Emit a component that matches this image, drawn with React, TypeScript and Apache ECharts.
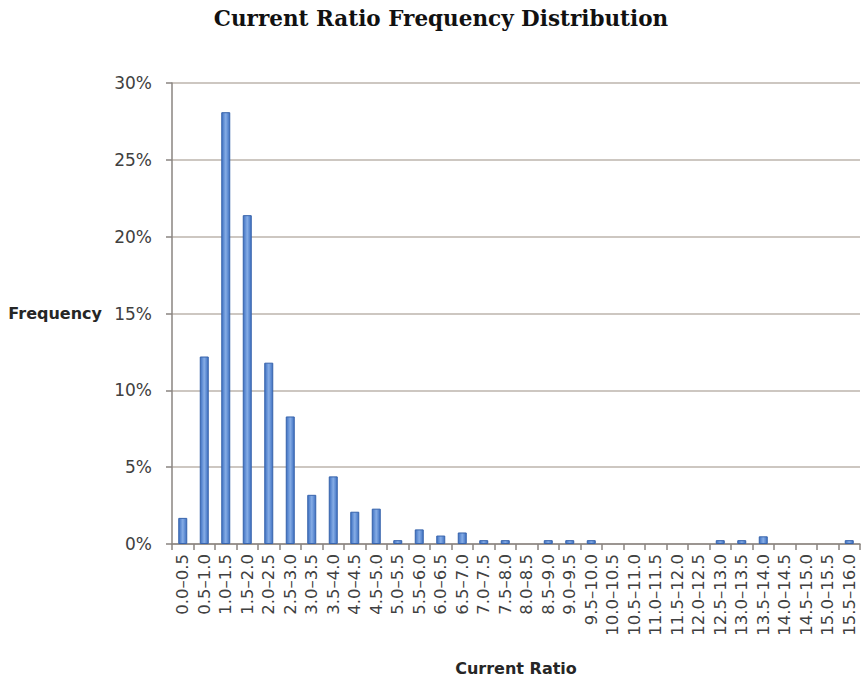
import React, { useEffect, useRef } from "react";
import * as echarts from "echarts";

const categories: string[] = [
  "0.0–0.5", "0.5–1.0", "1.0–1.5", "1.5–2.0", "2.0–2.5", "2.5–3.0", "3.0–3.5", "3.5–4.0",
  "4.0–4.5", "4.5–5.0", "5.0–5.5", "5.5–6.0", "6.0–6.5", "6.5–7.0", "7.0–7.5", "7.5–8.0",
  "8.0–8.5", "8.5–9.0", "9.0–9.5", "9.5–10.0", "10.0–10.5", "10.5–11.0", "11.0–11.5", "11.5–12.0",
  "12.0–12.5", "12.5–13.0", "13.0–13.5", "13.5–14.0", "14.0–14.5", "14.5–15.0", "15.0–15.5", "15.5–16.0",
];

const frequencyPct: number[] = [
  1.7, 12.2, 28.1, 21.4, 11.8, 8.3, 3.2, 4.4,
  2.1, 2.3, 0.25, 0.95, 0.55, 0.75, 0.25, 0.25,
  0, 0.25, 0.25, 0.25, 0, 0, 0, 0,
  0, 0.25, 0.25, 0.5, 0, 0, 0, 0.25,
];

const yTicks = { min: 0, max: 30, interval: 5 };

export default function App() {
  const ref = useRef<HTMLDivElement>(null);
  useEffect(() => {
    if (!ref.current) return;
    const chart = echarts.init(ref.current, undefined, { renderer: "svg" });
    const axisColor = "#8a8580";
    const labelFont = "DejaVu Sans";
    chart.setOption({
      animation: false,
      backgroundColor: "#ffffff",
      title: {
        text: "Current Ratio Frequency Distribution",
        left: 436,
        top: 2,
        textAlign: "center",
        textStyle: {
          fontFamily: "DejaVu Serif",
          fontWeight: "bold",
          fontSize: 21.5,
          color: "#111111",
        },
      },
      grid: {
        left: 172,
        right: 7,
        top: 83,
        bottom: 138,
        containLabel: false,
        outerBoundsMode: "none",
      },
      xAxis: {
        type: "category",
        data: categories,
        name: "Current Ratio",
        nameLocation: "middle",
        nameGap: 116,
        nameTextStyle: {
          fontFamily: labelFont,
          fontWeight: "bold",
          fontSize: 16,
          color: "#262626",
        },
        axisLine: { lineStyle: { color: axisColor, width: 1.5 } },
        axisTick: { show: true, length: 6, lineStyle: { color: axisColor, width: 1.5 } },
        axisLabel: {
          rotate: 90,
          interval: 0,
          margin: 10,
          fontFamily: labelFont,
          fontSize: 16.5,
          color: "#404040",
        },
      },
      yAxis: {
        type: "value",
        min: yTicks.min,
        max: yTicks.max,
        interval: yTicks.interval,
        name: "Frequency",
        nameLocation: "middle",
        nameRotate: 0,
        nameGap: 70,
        nameTextStyle: {
          fontFamily: labelFont,
          fontWeight: "bold",
          fontSize: 16,
          color: "#262626",
          align: "right",
        },
        axisLine: { show: true, lineStyle: { color: axisColor, width: 1.5 } },
        axisTick: { show: true, length: 6, lineStyle: { color: axisColor, width: 1.5 } },
        axisLabel: {
          formatter: "{value}%",
          margin: 20,
          fontFamily: labelFont,
          fontSize: 17,
          color: "#404040",
        },
        splitLine: { show: true, lineStyle: { color: "#bdb4ac", width: 1.5 } },
      },
      series: [
        {
          type: "bar",
          data: frequencyPct.map((v) =>
            v === 0 ? { value: v, itemStyle: { opacity: 0, borderWidth: 0 } } : v
          ),
          barWidth: 9,
          itemStyle: {
            color: new echarts.graphic.LinearGradient(0, 0, 1, 0, [
              { offset: 0, color: "#3f71c2" },
              { offset: 0.5, color: "#86ade6" },
              { offset: 1, color: "#3f71c2" },
            ]),
            borderColor: "#3763ab",
            borderWidth: 1,
          },
        },
      ],
    });
    return () => chart.dispose();
  }, []);
  return (
    <div
      ref={ref}
      style={{ position: "fixed", left: 0, top: 0, width: 867, height: 682, background: "#fff" }}
    />
  );
}
